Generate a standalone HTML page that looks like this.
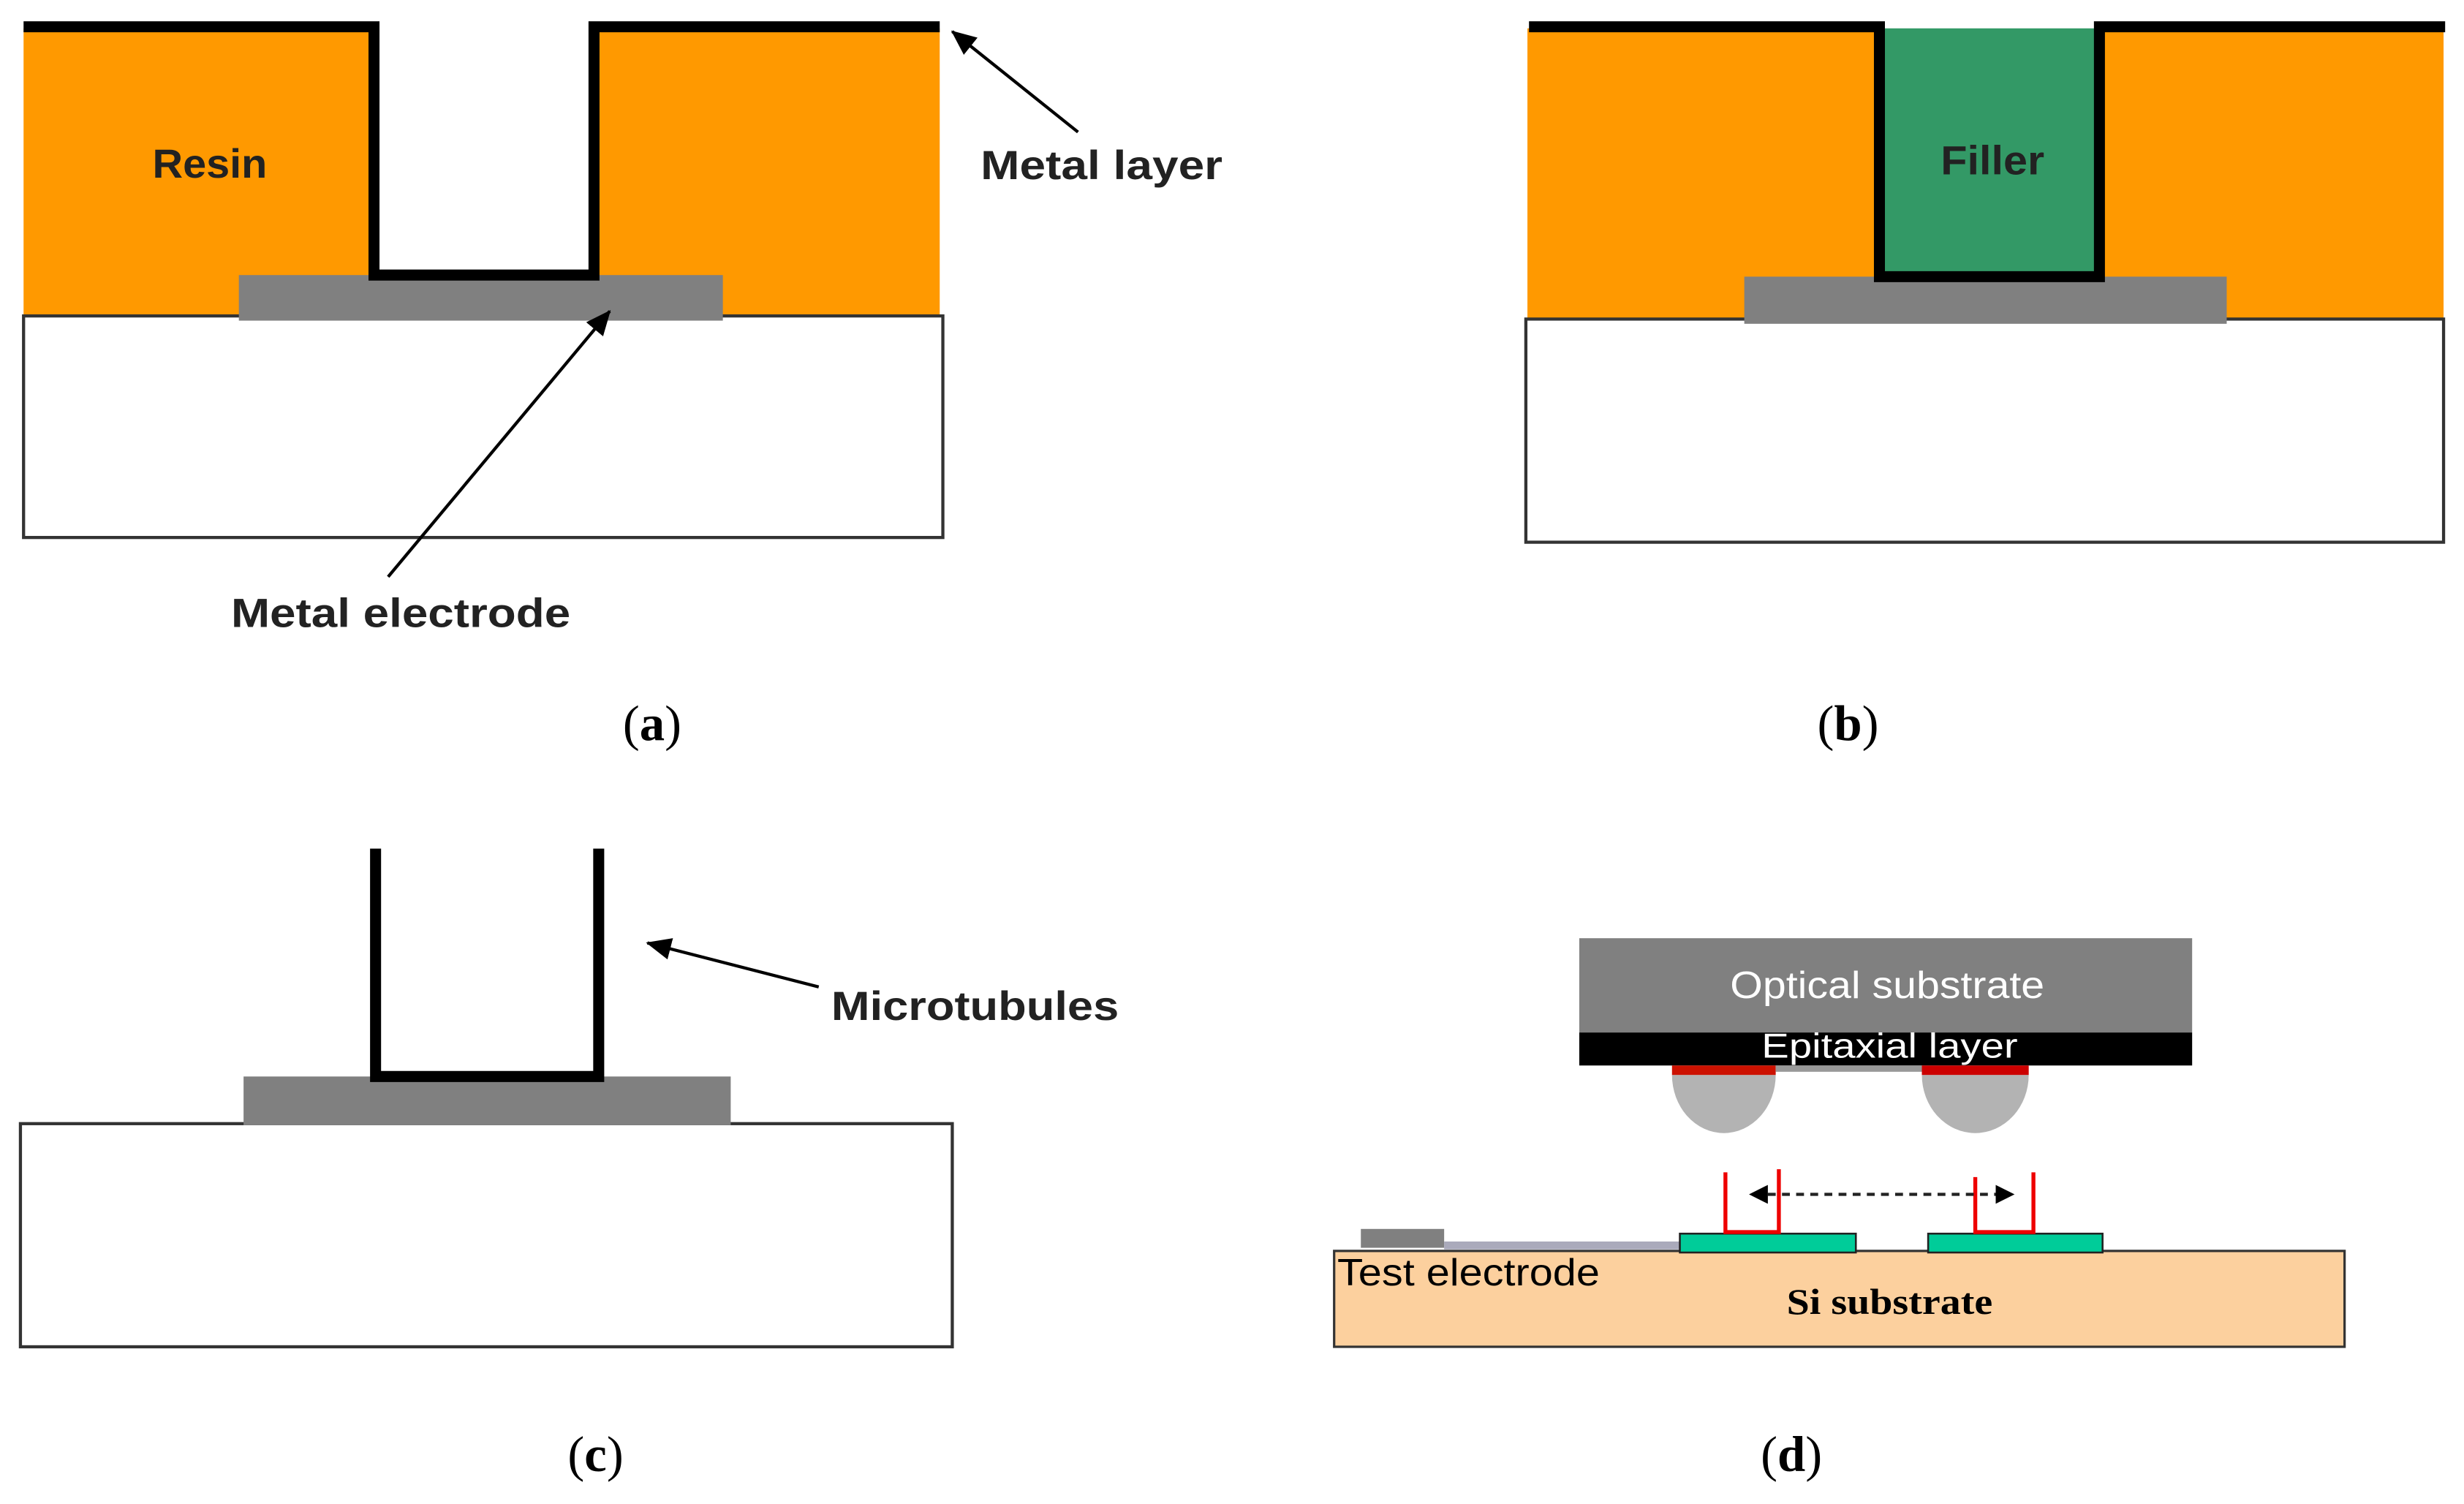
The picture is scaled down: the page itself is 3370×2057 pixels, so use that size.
<!DOCTYPE html>
<html><head><style>html,body{margin:0;padding:0;background:#fff}svg{display:block}</style></head>
<body>
<svg width="3370" height="2057" viewBox="0 0 1568 957" xmlns="http://www.w3.org/2000/svg">
<defs>
<marker id="ah2" markerWidth="16" markerHeight="14" refX="15" refY="7" orient="auto" markerUnits="userSpaceOnUse"><path d="M0,0 L16,7 L0,14 z" fill="#000"/></marker>
</defs>
<g font-family="Liberation Sans, DejaVu Sans, sans-serif">
<!-- (a) -->
<rect x="15" y="18" width="223" height="183" fill="#ff9900"/>
<rect x="378" y="18" width="220" height="183" fill="#ff9900"/>
<rect x="15" y="201" width="585" height="141" fill="#fff" stroke="#333" stroke-width="2"/>
<rect x="152" y="175" width="308" height="29" fill="#808080"/>
<polyline points="15,17 238,17 238,175 378,175 378,17 598,17" fill="none" stroke="#000" stroke-width="7"/>
<text x="97" y="113" font-size="26" font-weight="bold" fill="#222" textLength="73" lengthAdjust="spacingAndGlyphs">Resin</text>
<text x="624" y="114" font-size="26" font-weight="bold" fill="#222" textLength="154" lengthAdjust="spacingAndGlyphs">Metal layer</text>
<line x1="686" y1="84" x2="606" y2="20" stroke="#000" stroke-width="2" marker-end="url(#ah2)"/>
<text x="147" y="399" font-size="26" font-weight="bold" fill="#222" textLength="216" lengthAdjust="spacingAndGlyphs">Metal electrode</text>
<line x1="247" y1="367" x2="388" y2="198" stroke="#000" stroke-width="2" marker-end="url(#ah2)"/>
<!-- (b) -->
<rect x="972" y="18" width="225" height="185" fill="#ff9900"/>
<rect x="1335" y="18" width="220" height="185" fill="#ff9900"/>
<rect x="1197" y="18" width="138" height="158" fill="#339966"/>
<rect x="971" y="203" width="584" height="142" fill="#fff" stroke="#333" stroke-width="2"/>
<rect x="1110" y="176" width="307" height="30" fill="#808080"/>
<polyline points="973,17 1196,17 1196,176 1336,176 1336,17 1556,17" fill="none" stroke="#000" stroke-width="7"/>
<text x="1235" y="111" font-size="26" font-weight="bold" fill="#222" textLength="66" lengthAdjust="spacingAndGlyphs">Filler</text>
<!-- (c) -->
<rect x="13" y="715" width="593" height="142" fill="#fff" stroke="#333" stroke-width="2"/>
<rect x="155" y="685" width="310" height="31" fill="#808080"/>
<polyline points="239,540 239,685 381,685 381,540" fill="none" stroke="#000" stroke-width="7"/>
<text x="529" y="649" font-size="26" font-weight="bold" fill="#222" textLength="183" lengthAdjust="spacingAndGlyphs">Microtubules</text>
<line x1="521" y1="628" x2="412" y2="600" stroke="#000" stroke-width="2" marker-end="url(#ah2)"/>
<!-- (d) -->
<rect x="1005" y="597" width="390" height="60" fill="#808080"/>
<rect x="1005" y="657" width="390" height="21" fill="#000"/>
<path d="M1064,684 L1130,684 A33,37 0 0 1 1064,684 Z" fill="#b3b3b3"/>
<path d="M1223,684 L1291,684 A34,37 0 0 1 1223,684 Z" fill="#b3b3b3"/>
<rect x="1064" y="678" width="66" height="6" fill="#cc1100"/>
<rect x="1223" y="678" width="68" height="6" fill="#cc0000"/>
<rect x="1130" y="678" width="93" height="4" fill="#999"/>
<text x="1101" y="635" font-size="24" fill="#fff" textLength="200" lengthAdjust="spacingAndGlyphs">Optical substrate</text>
<text x="1121" y="673" font-size="22" fill="#fff" textLength="163" lengthAdjust="spacingAndGlyphs">Epitaxial layer</text>
<rect x="849" y="796" width="643" height="61" fill="#fcd09e" stroke="#333" stroke-width="1.5"/>
<rect x="866" y="782" width="53" height="12" fill="#808080"/>
<rect x="919" y="790" width="150" height="5" fill="#aab"/>
<rect x="1069" y="785" width="112" height="12" fill="#00cc99" stroke="#222" stroke-width="1.2"/>
<rect x="1227" y="785" width="111" height="12" fill="#00cc99" stroke="#222" stroke-width="1.2"/>
<polyline points="1098,746 1098,784 1132,784 1132,744" fill="none" stroke="#e00" stroke-width="2.5"/>
<polyline points="1257,749 1257,784 1294,784 1294,746" fill="none" stroke="#e00" stroke-width="2.5"/>
<line x1="1125" y1="760" x2="1272" y2="760" stroke="#222" stroke-width="2" stroke-dasharray="5,4"/>
<path d="M1113,760 L1125,754 L1125,766 Z" fill="#000"/>
<path d="M1282,760 L1270,754 L1270,766 Z" fill="#000"/>
<text x="851" y="818" font-size="24" fill="#000" textLength="167" lengthAdjust="spacingAndGlyphs">Test electrode</text>
<text x="1137" y="836" font-size="23" font-weight="bold" fill="#000" font-family="Liberation Serif, serif" textLength="131" lengthAdjust="spacingAndGlyphs">Si substrate</text>
</g>
<g font-family="Liberation Serif, serif" font-size="32" fill="#000" text-anchor="middle">
<text x="415" y="471">(<tspan font-weight="bold">a</tspan>)</text>
<text x="1176" y="471">(<tspan font-weight="bold">b</tspan>)</text>
<text x="379" y="936">(<tspan font-weight="bold">c</tspan>)</text>
<text x="1140" y="936">(<tspan font-weight="bold">d</tspan>)</text>
</g>
</svg>
</body></html>
